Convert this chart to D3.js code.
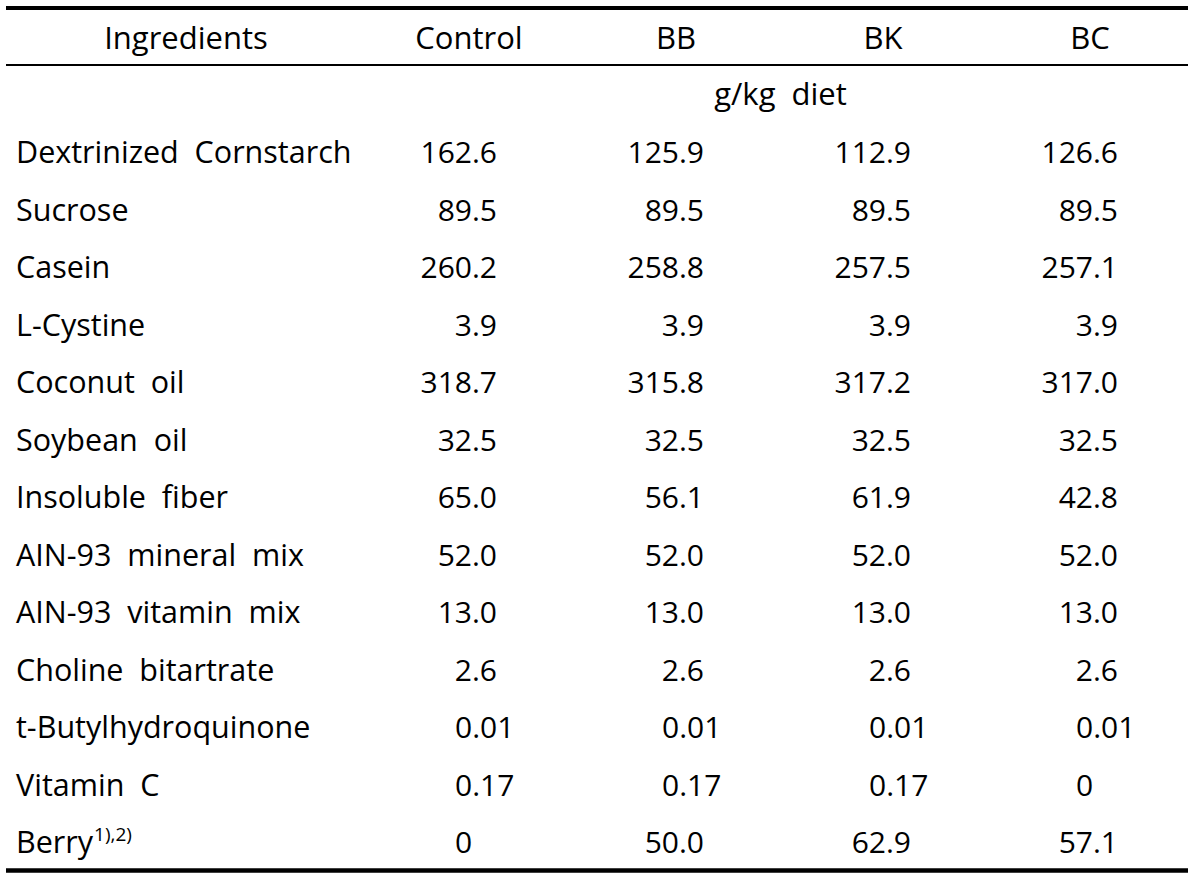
<!DOCTYPE html>
<html>
<head>
<meta charset="utf-8">
<script src="https://cdn.jsdelivr.net/npm/d3@7"></script>
<style>
  html, body { margin: 0; padding: 0; background: #fff; }
  svg text { font-family: "Open Sans", "Noto Sans", sans-serif; fill: #000; white-space: pre; }
</style>
</head>
<body>
<svg id="chart" width="1200" height="876"></svg>
<script>
// ---- data ----
const columns = ["Control", "BB", "BK", "BC"];
const headerLabel = "Ingredients";
const unitLabel = "g/kg  diet";
const ingredients = [
  "Dextrinized  Cornstarch", "Sucrose", "Casein", "L-Cystine", "Coconut  oil",
  "Soybean  oil", "Insoluble  fiber", "AIN-93  mineral  mix", "AIN-93  vitamin  mix",
  "Choline  bitartrate", "t-Butylhydroquinone", "Vitamin  C", "Berry"
];
const berryNote = "1),2)";
const controlValues = [162.6, 89.5, 260.2, 3.9, 318.7, 32.5, 65.0, 52.0, 13.0, 2.6, 0.01, 0.17, 0];
const bbValues      = [125.9, 89.5, 258.8, 3.9, 315.8, 32.5, 56.1, 52.0, 13.0, 2.6, 0.01, 0.17, 50.0];
const bkValues      = [112.9, 89.5, 257.5, 3.9, 317.2, 32.5, 61.9, 52.0, 13.0, 2.6, 0.01, 0.17, 62.9];
const bcValues      = [126.6, 89.5, 257.1, 3.9, 317.0, 32.5, 42.8, 52.0, 13.0, 2.6, 0.01, 0, 57.1];
const seriesValues = [controlValues, bbValues, bkValues, bcValues];

// ---- layout ----
const svg = d3.select("#chart");
const headFont = 31, labelFont = 30.5, numFont = 30;
const lineLeft = 6, lineRight = 1188;

const x = d3.scalePoint().domain(columns).range([497, 1118]);   // right edge of number column
const y = d3.scalePoint().domain(d3.range(ingredients.length)).range([163, 853]);
const headerY = 49, unitY = 105;

function fmt(v) {
  if (v === 0) return "0";
  if (v < 1) return d3.format(".2f")(v);
  return d3.format(".1f")(v);
}

// rules
svg.append("line").attr("x1", lineLeft).attr("x2", lineRight).attr("y1", 8).attr("y2", 8)
  .attr("stroke", "#000").attr("stroke-width", 4);
svg.append("line").attr("x1", lineLeft).attr("x2", lineRight).attr("y1", 65).attr("y2", 65)
  .attr("stroke", "#000").attr("stroke-width", 2);
svg.append("line").attr("x1", lineLeft).attr("x2", lineRight).attr("y1", 870.5).attr("y2", 870.5)
  .attr("stroke", "#000").attr("stroke-width", 4.5);

// header
svg.append("text").attr("x", 186).attr("y", headerY).attr("text-anchor", "middle")
  .attr("font-size", headFont).text(headerLabel);
svg.selectAll("text.colhead").data(columns).join("text").attr("class", "colhead")
  .attr("x", d => x(d) - 28).attr("y", headerY).attr("text-anchor", "middle")
  .attr("font-size", headFont).text(d => d);

// unit row
svg.append("text").attr("x", (x("BB") + x("BK")) / 2 - 27).attr("y", unitY)
  .attr("text-anchor", "middle").attr("font-size", headFont).text(unitLabel);

// row labels
const labels = svg.selectAll("text.rowlab").data(ingredients).join("text").attr("class", "rowlab")
  .attr("x", 16).attr("y", (d, i) => y(i)).attr("font-size", labelFont).text(d => d);
labels.filter(d => d === "Berry").append("tspan")
  .attr("font-size", 19).attr("dx", 1).attr("dy", -12).text(berryNote);

// values
columns.forEach((c, ci) => {
  svg.selectAll("text.val" + ci).data(seriesValues[ci]).join("text").attr("class", "val" + ci)
    .attr("x", v => v < 1 ? x(c) - 42 : x(c))
    .attr("y", (v, i) => y(i))
    .attr("text-anchor", v => v < 1 ? "start" : "end")
    .attr("font-size", numFont)
    .text(v => fmt(v));
});
</script>
</body>
</html>
